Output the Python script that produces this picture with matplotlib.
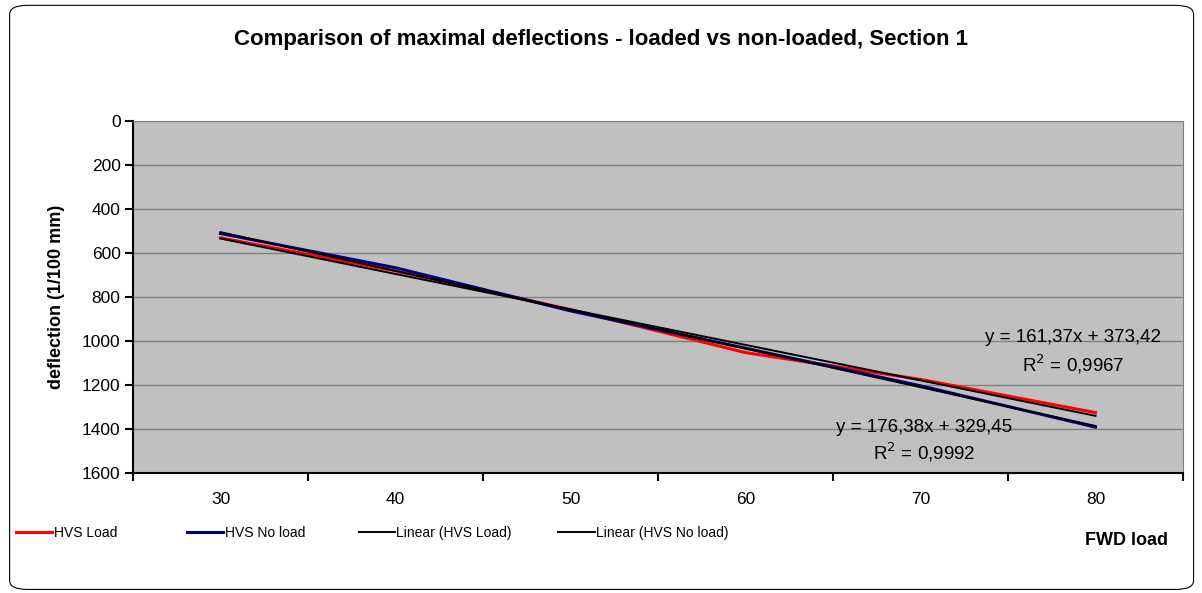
import matplotlib.pyplot as plt
from matplotlib.patches import FancyBboxPatch

plt.rcParams['font.family'] = ['Liberation Sans', 'DejaVu Sans']

# FWD load levels and maximal deflections (1/100 mm)
fwd_load = ['30', '40', '50', '60', '70', '80']
hvs_load = [532, 682, 858, 1054, 1176, 1327]
hvs_no_load = [512, 668, 864, 1034, 1205, 1393]

# Linear trendlines (x = category index 1..6)
trend_load = (161.37, 373.42, 0.9967)
trend_no_load = (176.38, 329.45, 0.9992)

fig = plt.figure(figsize=(12.02, 5.93), dpi=100)
fig.patch.set_facecolor('white')

# rounded chart border
fig.patches.append(FancyBboxPatch((0.008, 0.006), 0.985, 0.985,
                                  boxstyle='round,pad=0,rounding_size=0.015',
                                  transform=fig.transFigure, fill=False,
                                  edgecolor='black', linewidth=0.8))

ax = fig.add_axes([0.1107, 0.203, 0.8735, 0.593])
ax.set_facecolor('#C0C0C0')

x = list(range(len(fwd_load)))
ax.plot(x, hvs_load, color='#FF0000', lw=2.2, label='HVS Load', zorder=3)
ax.plot(x, hvs_no_load, color='#000080', lw=2.2, label='HVS No load', zorder=3)

for (a, b, r2), name in zip([trend_load, trend_no_load], ['HVS Load', 'HVS No load']):
    ty = [a * (i + 1) + b for i in x]
    ax.plot(x, ty, color='black', lw=1.4, label=f'Linear ({name})', zorder=4)

# trendline equations
ax.text(4.87, 984, 'y = 161,37x + 373,42', ha='center', va='center', fontsize=13.5)
ax.text(4.87, 1107, 'R$^2$ = 0,9967', ha='center', va='center', fontsize=13.5)
ax.text(4.02, 1394, 'y = 176,38x + 329,45', ha='center', va='center', fontsize=13.5)
ax.text(4.02, 1508, 'R$^2$ = 0,9992', ha='center', va='center', fontsize=13.5)

ax.set_xlim(-0.5, len(fwd_load) - 0.5)
ax.set_ylim(1600, 0)
ax.set_yticks(range(0, 1601, 200))
ax.yaxis.grid(True, color='#808080', lw=1)
ax.set_axisbelow(True)

ax.set_xticks([i - 0.5 for i in range(len(fwd_load) + 1)])
ax.set_xticklabels([])
ax.set_xticks(x, minor=True)
ax.set_xticklabels(fwd_load, minor=True)
ax.tick_params(axis='x', which='minor', length=0, pad=14, labelsize=12.5)
ax.tick_params(axis='x', which='major', length=6, width=1.5, direction='out')
ax.tick_params(axis='y', length=6, width=1.5, direction='out', labelsize=12.5, pad=3)

for side in ['left', 'bottom']:
    ax.spines[side].set_linewidth(1.5)
for side in ['top', 'right']:
    ax.spines[side].set_color('#808080')

ax.set_ylabel('deflection (1/100 mm)', fontsize=13, fontweight='bold', labelpad=12)
fig.text(0.5, 0.934, 'Comparison of maximal deflections - loaded vs non-loaded, Section 1',
         ha='center', va='center', fontsize=16, fontweight='bold')
fig.text(0.937, 0.0885, 'FWD load', ha='center', va='center', fontsize=13, fontweight='bold')

# legend entries laid out along the bottom
handles, labels = ax.get_legend_handles_labels()
for h, lab, lx in zip(handles, labels, [0.009, 0.151, 0.294, 0.460]):
    fig.legend([h], [lab], loc='center left', bbox_to_anchor=(lx, 0.101),
               frameon=False, fontsize=10, handlelength=2.6, handletextpad=0.1,
               borderaxespad=0)

fig.savefig('out.png', dpi=100)
